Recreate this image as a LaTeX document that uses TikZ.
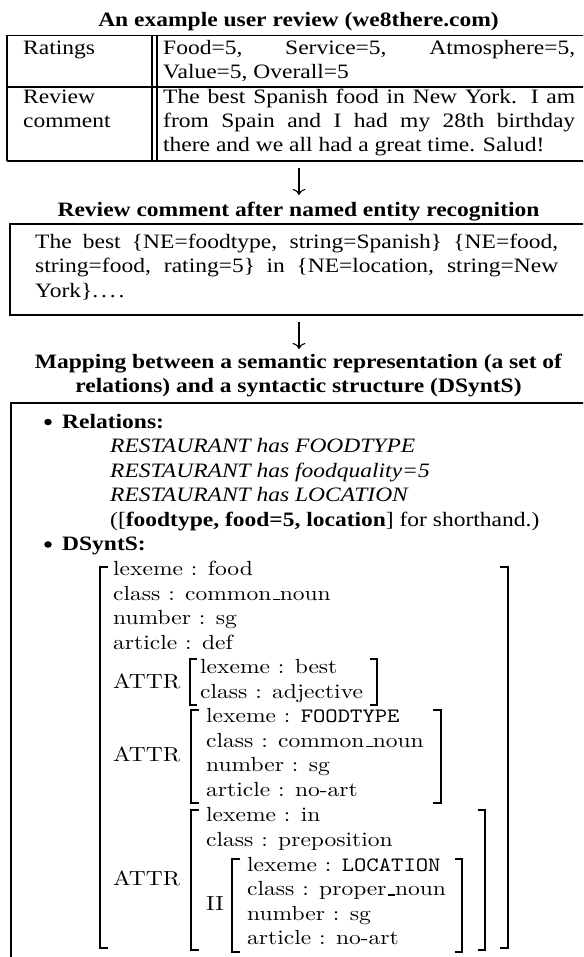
\documentclass[tikz,border=0pt]{standalone}
\usepackage{fontspec}
\setmainfont{Liberation Serif}
\newfontfamily\lmr{lmroman10-regular.otf}
\newfontfamily\lmtt{lmmono10-regular.otf}
\usetikzlibrary{arrows.meta}
\newcommand{\jl}[2]{\makebox[#1pt][s]{#2}}
\newcommand{\us}{\kern.06em\rule{0.3em}{1.3pt}}
\tikzset{
  txt/.style={anchor=base west, inner sep=0pt, font=\fontsize{23.5}{28.2}\selectfont},
  ttl/.style={anchor=base, inner sep=0pt, font=\fontsize{23.5}{28.2}\selectfont\bfseries},
  avm/.style={anchor=base west, inner sep=0pt, font=\fontsize{23.5}{28.2}\selectfont\lmr},
  dot/.style={circle, fill, inner sep=0pt, minimum size=7.5pt},
  frame/.style={line width=1.6pt},
  brk/.style={line width=1.3pt},
  flow/.style={line width=1.1pt, -{Computer Modern Rightarrow[length=6pt,width=13pt]}},
}
\begin{document}
\begin{tikzpicture}[x=1pt,y=-1.149425pt,yscale=0.87,transform shape]
\useasboundingbox (0,0) rectangle (583,957);
\clip (0,0) rectangle (583,957);
% ---------- title 1 and table
\node[ttl] (t1) at (298.5,27) {An example user review (we8there.com)};
\draw[frame] (7,35.5) -- (595,35.5);
\draw[frame] (7,87) -- (595,87);
\draw[frame] (7,161) -- (595,161);
\draw[frame] (7,35.5) -- (7,161);
\draw[frame] (152,35.5) -- (152,161);
\draw[frame] (157,35.5) -- (157,161);
\node[txt] (r1a) at (23,55) {Ratings};
\node[txt] (r1b) at (163,55) {\jl{412}{Food=5, Service=5, Atmosphere=5,}};
\node[txt] (r1c) at (163,79) {Value=5, Overall=5};
\node[txt] (r2a) at (23,104) {Review};
\node[txt] (r2a2) at (23,128) {comment};
\node[txt] (r2b) at (163,104) {\jl{412}{The best Spanish food in New York. I am}};
\node[txt] (r2c) at (163,128) {\jl{412}{from Spain and I had my 28th birthday}};
\node[txt] (r2d) at (163,152) {there and we all had a great time. Salud!};
% ---------- arrow 1
\coordinate (a1s) at (299,168);
\coordinate (a1e) at (299,195);
\draw[flow] (a1s) -- (a1e);
% ---------- title 2 and box 2
\node[ttl] (t2) at (298.5,216) {Review comment after named entity recognition};
\draw[frame] (595,224) -- (10,224) -- (10,315) -- (595,315);
\node[txt] (n1) at (35,248) {\jl{523}{The best \{NE=foodtype, string=Spanish\} \{NE=food,}};
\node[txt] (n2) at (35,272.5) {\jl{523}{string=food, rating=5\} in \{NE=location, string=New}};
\node[txt] (n3) at (35,297) {York\}.\kern2.9pt.\kern2.9pt.\kern2.9pt.};
% ---------- arrow 2
\coordinate (a2s) at (299,322);
\coordinate (a2e) at (299,349);
\draw[flow] (a2s) -- (a2e);
% ---------- title 3 and box 3
\node[ttl] (t3a) at (298.5,368) {Mapping between a semantic representation (a set of};
\node[ttl] (t3b) at (298.5,392.5) {relations) and a syntactic structure (DSyntS)};
\draw[frame] (595,403) -- (11,403) -- (11,965);
\node[dot] (b1) at (48,422) {};
\node[txt] (rel) at (62,428) {\textbf{Relations:}};
\node[txt] (rl1) at (110,452.5) {\textit{RESTAURANT has FOODTYPE}};
\node[txt] (rl2) at (110,477) {\textit{RESTAURANT has foodquality=5}};
\node[txt] (rl3) at (110,501.5) {\textit{RESTAURANT has LOCATION}};
\node[txt] (rl4) at (110,526) {([\textbf{foodtype, food=5, location}] for shorthand.)};
\node[dot] (b2) at (48,544.5) {};
\node[txt] (ds) at (62,550.5) {\textbf{DSyntS:}};
% ---------- AVM
\draw[brk] (108,567) -- (100,567) -- (100,948) -- (108,948);
\draw[brk] (500,567) -- (508,567) -- (508,948) -- (500,948);
\node[avm] (f1) at (113,575.5) {lexeme : food};
\node[avm] (f2) at (113,600) {class : common\us noun};
\node[avm] (f3) at (113,624.5) {number : sg};
\node[avm] (f4) at (113,649) {article : def};
\node[avm] (at1) at (113,688) {ATTR};
\draw[brk] (197,659) -- (190,659) -- (190,705) -- (197,705);
\draw[brk] (370,659) -- (377,659) -- (377,705) -- (370,705);
\node[avm] (g1) at (200,673.5) {lexeme : best};
\node[avm] (g2) at (200,698) {class : adjective};
\node[avm] (at2) at (113,761.5) {ATTR};
\draw[brk] (199,710) -- (191,710) -- (191,803) -- (199,803);
\draw[brk] (433,710) -- (441,710) -- (441,803) -- (433,803);
\node[avm] (h1) at (206,722.5) {lexeme : {\lmtt FOODTYPE}};
\node[avm] (h2) at (206,747) {class : common\us noun};
\node[avm] (h3) at (206,771.5) {number : sg};
\node[avm] (h4) at (206,796) {article : no-art};
\node[avm] (at3) at (113,885) {ATTR};
\draw[brk] (199,810) -- (191,810) -- (191,950) -- (199,950);
\draw[brk] (478,810) -- (485,810) -- (485,950) -- (478,950);
\node[avm] (i1) at (206,821) {lexeme : in};
\node[avm] (i2) at (206,846) {class : preposition};
\node[avm] (ii) at (206,910.5) {II};
\draw[brk] (240,859) -- (232,859) -- (232,952) -- (240,952);
\draw[brk] (455,859) -- (462,859) -- (462,952) -- (455,952);
\node[avm] (j1) at (247,871) {lexeme : {\lmtt LOCATION}};
\node[avm] (j2) at (247,895.5) {class : proper\us noun};
\node[avm] (j3) at (247,920) {number : sg};
\node[avm] (j4) at (247,944.5) {article : no-art};
\end{tikzpicture}
\end{document}
